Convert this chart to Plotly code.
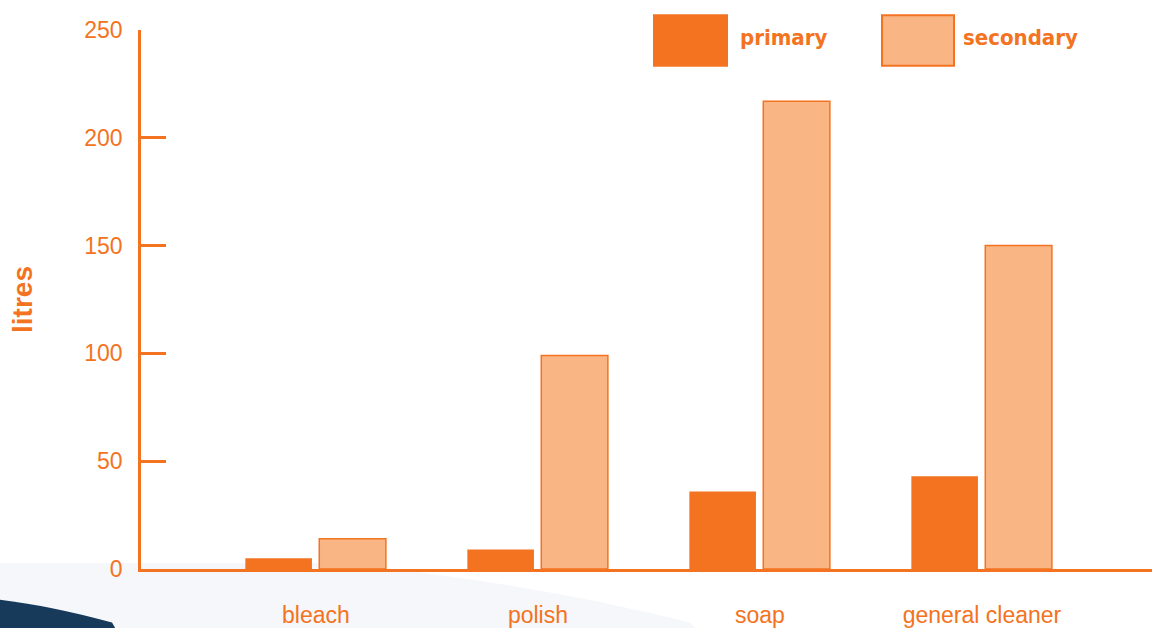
import plotly.graph_objects as go

categories = ["bleach", "polish", "soap", "general cleaner"]
primary = [5, 9, 36, 43]
secondary = [14, 99, 217, 150]
series_names = ["primary", "secondary"]
y_ticks = [0, 50, 100, 150, 200, 250]

ORANGE = "#F37321"
LIGHT = "#F9B584"
W, H = 1152, 628
L, R, T, B = 141, 0, 30, 54

def px(x):
    return (x - L) / (W - L - R)

def py(y):
    return (H - B - y) / (H - T - B)

fig = go.Figure()
fig.add_trace(go.Bar(x=categories, y=primary, name=series_names[0],
                     marker=dict(color=ORANGE, line=dict(width=0)),
                     width=0.30, offset=-0.318))
fig.add_trace(go.Bar(x=categories, y=secondary, name=series_names[1],
                     marker=dict(color=LIGHT, line=dict(color=ORANGE, width=1.5)),
                     width=0.30, offset=0.015))

shapes = []
# background decorations
shapes.append(dict(type="path", xref="paper", yref="paper", layer="below",
                   path=f"M {px(0)},{py(568)} L {px(330)},{py(568)} Q {px(520)},{py(585)} {px(690)},{py(628)} L {px(720)},{py(660)} L {px(0)},{py(660)} Z",
                   fillcolor="#F5F7FA", line=dict(width=0)))
shapes.append(dict(type="path", xref="paper", yref="paper", layer="below",
                   path=f"M {px(0)},{py(605)} Q {px(50)},{py(611)} {px(112)},{py(628)} L {px(130)},{py(660)} L {px(0)},{py(660)} Z",
                   fillcolor="#173A5A", line=dict(width=0)))
# legend boxes
shapes.append(dict(type="rect", xref="paper", yref="paper",
                   x0=px(653), x1=px(728), y0=py(67), y1=py(14),
                   fillcolor=ORANGE, line=dict(width=0)))
shapes.append(dict(type="rect", xref="paper", yref="paper",
                   x0=px(882), x1=px(954), y0=py(66), y1=py(15),
                   fillcolor=LIGHT, line=dict(color=ORANGE, width=2)))

legend_font = dict(family="Liberation Sans Narrow, DejaVu Sans Condensed, Arial Narrow, sans-serif",
                   size=22, color=ORANGE)
annotations = [
    dict(text=f"<b>{series_names[0]}</b>", xref="paper", yref="paper", x=px(738), y=py(38),
         xanchor="left", yanchor="middle", showarrow=False, font=legend_font),
    dict(text=f"<b>{series_names[1]}</b>", xref="paper", yref="paper", x=px(961), y=py(38),
         xanchor="left", yanchor="middle", showarrow=False, font=legend_font),
]

fig.update_layout(
    width=W, height=H,
    margin=dict(l=L, r=R, t=T, b=B),
    paper_bgcolor="white", plot_bgcolor="rgba(0,0,0,0)",
    showlegend=False,
    barmode="group",
    shapes=shapes, annotations=annotations,
    font=dict(family="Liberation Sans, Arial, sans-serif", size=20, color=ORANGE),
)
fig.update_xaxes(range=[-0.788, 3.766], showline=True, linecolor=ORANGE, linewidth=2.5,
                 ticks="", showgrid=False, zeroline=False,
                 tickfont=dict(size=23, color=ORANGE), ticklabelstandoff=24)
fig.update_yaxes(range=[0, 250], tickvals=y_ticks, showline=True, linecolor=ORANGE, linewidth=2.5,
                 ticks="inside", ticklen=25, tickwidth=2.5, tickcolor=ORANGE,
                 showgrid=False, zeroline=False,
                 tickfont=dict(size=23, color=ORANGE), ticklabelstandoff=11,
                 title=dict(text="<b>litres</b>", font=dict(size=28, color=ORANGE), standoff=44))

post = (
    "document.documentElement.style.margin='0';"
    "document.documentElement.style.overflow='hidden';"
    "document.body.style.margin='0';"
    "document.body.style.overflow='hidden';"
)
fig.write_html("out.html", config={"displayModeBar": False}, post_script=post)
